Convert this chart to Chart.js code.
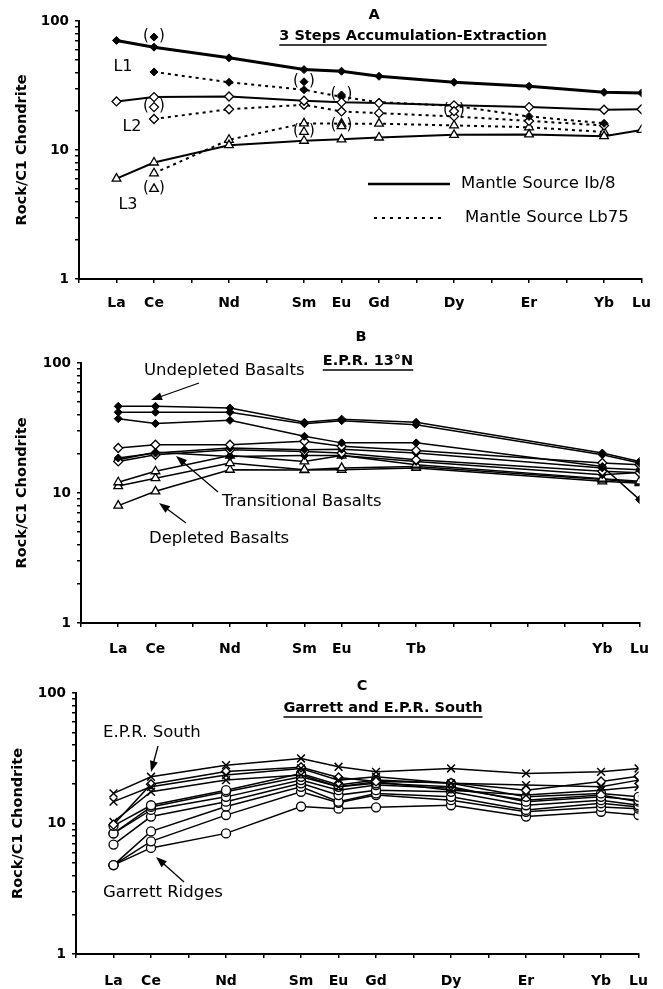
<!DOCTYPE html>
<html>
<head>
<meta charset="utf-8">
<script src="https://cdn.jsdelivr.net/npm/chart.js@4"></script>
<style>
  body { margin: 0; background: #fff; width: 663px; height: 989px; position: relative; overflow: hidden; }
  canvas { position: absolute; left: 0; }
</style>
</head>
<body>
<canvas id="chartA" width="663" height="320" style="top:0px"></canvas>
<canvas id="chartB" width="663" height="340" style="top:320px"></canvas>
<canvas id="chartC" width="663" height="329" style="top:660px"></canvas>
<script>
// REE positions (atomic number) and names
const positionsA = [57, 58, 60, 62, 63, 64, 66, 68, 70, 71];
const namesA = ['La', 'Ce', 'Nd', 'Sm', 'Eu', 'Gd', 'Dy', 'Er', 'Yb', 'Lu'];
const positionsB = [57, 58, 60, 62, 63, 65, 70, 71];
const namesB = ['La', 'Ce', 'Nd', 'Sm', 'Eu', 'Tb', 'Yb', 'Lu'];
const yTickLabels = [1, 10, 100];

// panel A - model curves
const aL1Solid = [70.7, 62.7, 51.8, 42.0, 40.8, 37.3, 33.5, 31.2, 28.0, 27.7];
const aL2Solid = [23.8, 25.7, 26.0, 24.1, 23.4, 23.1, 22.2, 21.5, 20.5, 20.7];
const aL3Solid = [6.0, 8.0, 10.9, 11.8, 12.1, 12.5, 13.1, 13.2, 12.8, 14.3];
const aL1Dot = [null, 40.3, 33.5, 29.3, 25.8, 23.5, 22.0, 18.2, 16.1, null];
const aL2Dot = [null, 17.4, 20.7, 22.4, 19.9, 19.3, 18.2, 16.8, 15.5, null];
const aL3Dot = [null, 6.6, 12.0, 16.1, 16.0, 16.0, 15.5, 15.0, 13.8, null];
// bracketed points in panel A
const brFilledPos = [58, 62, 63];
const brFilledVal = [75, 33.8, 26.7];
const brOpenPos = [58, 66];
const brOpenVal = [21.5, 20.0];
const brTriPos = [58, 62, 63];
const brTriVal = [5.0, 13.8, 15.3];

// panel B - E.P.R. 13N
const bUndep1 = [46.4, 46.4, 45.0, 35.0, 37.0, 35.0, 20.3, 17.5];
const bUndep2 = [41.8, 41.8, 41.8, 34.1, 36.0, 33.5, 19.7, 17.0];
const bUndep3 = [37.3, 34.2, 36.2, 27.3, 24.3, 24.3, 16.0, 8.9];
const bTrans1 = [22.2, 23.5, 23.5, 25.0, 22.9, 21.2, 17.0, 16.5];
const bTrans2 = [18.6, 20.3, 22.2, 21.5, 21.7, 20.3, 15.6, 15.1];
const bTrans3 = [17.5, 19.7, 21.5, 20.9, 20.3, 18.0, 14.7, 14.3];
const bTrans4 = [18.0, 20.6, 19.1, 19.4, 19.4, 17.5, 13.8, 14.4];
const bDep1 = [12.1, 14.7, 19.4, 17.5, 19.4, 16.5, 12.9, 12.3];
const bDep2 = [11.3, 13.0, 17.0, 15.1, 15.6, 16.0, 12.7, 12.1];
const bDep3 = [8.0, 10.3, 15.1, 15.0, 15.1, 15.6, 12.3, 11.9];

// panel C - Garrett and E.P.R. South
const cEpr1 = [17.0, 22.8, 28.0, 31.5, 27.2, 24.9, 26.4, 24.2, 24.9, 26.4];
const cEpr2 = [14.7, 19.1, 23.5, 26.4, 21.5, 22.8, 20.3, 19.7, 19.1, 21.5];
const cEpr3 = [10.3, 17.5, 21.5, 23.5, 19.1, 20.9, 18.0, 16.5, 18.0, 19.1];
const cEprD = [9.8, 20.0, 25.0, 27.0, 22.5, 21.0, 20.5, 18.0, 21.0, 23.0];
const cGar1 = [9.6, 13.8, 18.0, 24.2, 19.7, 21.5, 20.3, 16.0, 17.0, 16.0];
const cGar2 = [8.4, 12.7, 16.0, 21.5, 18.0, 19.7, 18.6, 15.1, 16.5, 14.7];
const cGar3 = [6.9, 11.3, 14.7, 20.3, 16.5, 18.0, 17.5, 13.8, 15.1, 13.8];
const cGar4 = [4.8, 8.7, 13.5, 19.1, 14.7, 17.0, 16.0, 12.7, 14.3, 13.4];
const cGar5 = [4.8, 7.3, 11.6, 17.5, 14.4, 16.5, 15.1, 12.3, 13.4, 13.0];
const cGar6 = [4.8, 6.5, 8.4, 13.5, 13.0, 13.3, 13.8, 11.3, 12.3, 11.6];
const cGar7 = [8.4, 13.4, 17.5, 22.8, 19.1, 20.3, 19.1, 14.7, 16.0, 15.1];

const FONT = '"DejaVu Sans", sans-serif';

function pts(pos, vals) {
  return vals.map((v, i) => ({ x: pos[i], y: v })).filter(p => p.y !== null);
}

const FD = { pointStyle: 'rectRot', pointRadius: 4, pointBackgroundColor: '#000', pointBorderColor: '#000', pointBorderWidth: 1 };
const OD = { pointStyle: 'rectRot', pointRadius: 4.5, pointBackgroundColor: '#fff', pointBorderColor: '#000', pointBorderWidth: 1.3 };
const OT = { pointStyle: 'triangle', pointRadius: 5, pointBackgroundColor: '#fff', pointBorderColor: '#000', pointBorderWidth: 1.3 };
const OC = { pointStyle: 'circle', pointRadius: 4.5, pointBackgroundColor: '#fff', pointBorderColor: '#000', pointBorderWidth: 1.3 };
const XX = { pointStyle: 'crossRot', pointRadius: 5.5, pointBackgroundColor: '#000', pointBorderColor: '#000', pointBorderWidth: 1.5 };

function line(pos, vals, mark, width, dash) {
  return Object.assign({
    data: pts(pos, vals), showLine: true, borderColor: '#000', borderWidth: width,
    borderDash: dash || [], tension: 0
  }, mark);
}
function marks(pos, vals, mark) {
  return Object.assign({ data: pts(pos, vals), showLine: false, bracket: true }, mark);
}

function arrow(ctx, x1, y1, x2, y2) {
  const a = Math.atan2(y2 - y1, x2 - x1);
  ctx.beginPath();
  ctx.moveTo(x1, y1);
  ctx.lineTo(x2 - 6 * Math.cos(a), y2 - 6 * Math.sin(a));
  ctx.lineWidth = 1.3;
  ctx.stroke();
  ctx.beginPath();
  ctx.moveTo(x2, y2);
  ctx.lineTo(x2 - 11 * Math.cos(a) + 4 * Math.sin(a), y2 - 11 * Math.sin(a) - 4 * Math.cos(a));
  ctx.lineTo(x2 - 11 * Math.cos(a) - 4 * Math.sin(a), y2 - 11 * Math.sin(a) + 4 * Math.cos(a));
  ctx.closePath();
  ctx.fill();
}

function titles(ctx, letter, lx, ly, text, tx, ty) {
  ctx.font = 'bold 14.5px ' + FONT;
  ctx.textAlign = 'center';
  ctx.textBaseline = 'middle';
  ctx.fillText(letter, lx, ly);
  ctx.fillText(text, tx, ty);
  const w = ctx.measureText(text).width;
  ctx.beginPath();
  ctx.moveTo(tx - w / 2, ty + 9);
  ctx.lineTo(tx + w / 2, ty + 9);
  ctx.lineWidth = 1.5;
  ctx.stroke();
}

// extra text/arrows per canvas (kept outside chart options so Chart.js does not resolve them)
const extraDraw = {};

const annotate = {
  id: 'annotate',
  afterDatasetsDraw(chart) {
    const ctx = chart.ctx;
    ctx.save();
    ctx.fillStyle = '#000';
    ctx.strokeStyle = '#000';
    ctx.setLineDash([]);
    // brackets around uncertain points
    ctx.font = '15px ' + FONT;
    ctx.textAlign = 'center';
    ctx.textBaseline = 'middle';
    chart.data.datasets.forEach((d, i) => {
      if (!d.bracket) return;
      chart.getDatasetMeta(i).data.forEach(p => {
        ctx.fillText('(', p.x - 8, p.y - 1);
        ctx.fillText(')', p.x + 8, p.y - 1);
      });
    });
    const extra = extraDraw[chart.canvas.id];
    if (extra) extra(ctx);
    ctx.restore();
  }
};

function makeChart(id, names, positions, datasets, geo, draw) {
  const nameAt = {};
  positions.forEach((p, i) => { nameAt[p] = names[i]; });
  extraDraw[id] = draw;
  return new Chart(document.getElementById(id), {
    type: 'scatter',
    data: { datasets: datasets },
    plugins: [annotate],
    options: {
      responsive: false,
      animation: false,
      devicePixelRatio: 1,
      layout: { padding: { top: geo.top, right: geo.right, left: 0, bottom: 0 } },
      plugins: { legend: { display: false }, tooltip: { enabled: false } },
      scales: {
        x: {
          type: 'linear', min: 56, max: 71,
          afterBuildTicks: s => { s.ticks = []; for (let v = 56; v <= 71; v++) s.ticks.push({ value: v }); },
          afterFit: s => { s.height = geo.xH; },
          ticks: {
            autoSkip: false, maxRotation: 0, padding: geo.xPad, color: '#000',
            font: { family: FONT, weight: 'bold', size: 14 },
            callback: v => nameAt[v] || ''
          },
          grid: { drawOnChartArea: false, tickLength: 4, color: '#000', lineWidth: 1.5 },
          border: { color: '#000', width: 2 }
        },
        y: {
          type: 'logarithmic', min: 1, max: 100,
          afterBuildTicks: s => {
            s.ticks = [];
            [1, 10].forEach(d => { for (let k = 1; k < 10; k++) s.ticks.push({ value: d * k }); });
            s.ticks.push({ value: 100 });
          },
          afterFit: s => { s.width = geo.yW; },
          ticks: {
            autoSkip: false, padding: 6, color: '#000',
            font: { family: FONT, weight: 'bold', size: 13.5 },
            callback: v => (yTickLabels.includes(v) ? String(v) : '')
          },
          grid: { drawOnChartArea: false, tickLength: 4, color: '#000', lineWidth: 1.5 },
          border: { color: '#000', width: 2 },
          title: {
            display: true, text: 'Rock/C1 Chondrite', color: '#000',
            font: { family: FONT, weight: 'bold', size: 14.5 },
            padding: { top: geo.titlePad, bottom: 0 }
          }
        }
      }
    }
  });
}

// ---- panel A
makeChart('chartA', namesA, positionsA, [
  marks(brFilledPos, brFilledVal, FD),
  marks(brOpenPos, brOpenVal, OD),
  marks(brTriPos, brTriVal, OT),
  line(positionsA, aL1Solid, FD, 3),
  line(positionsA, aL2Solid, OD, 2),
  line(positionsA, aL3Solid, OT, 2),
  line(positionsA, aL1Dot, FD, 2, [3, 4]),
  line(positionsA, aL2Dot, OD, 2, [3, 4]),
  line(positionsA, aL3Dot, OT, 2, [3, 4])
], { top: 21, right: 17, xH: 41, yW: 79, xPad: 12, titlePad: 14 }, ctx => {
  titles(ctx, 'A', 374, 15, '3 Steps Accumulation-Extraction', 413, 36);
  ctx.font = '16px ' + FONT;
  ctx.textAlign = 'center';
  ctx.fillText('L1', 123, 67);
  ctx.fillText('L2', 132, 127);
  ctx.fillText('L3', 128, 205);
  ctx.lineWidth = 2.5;
  ctx.beginPath(); ctx.moveTo(368, 184); ctx.lineTo(450, 184); ctx.stroke();
  ctx.lineWidth = 2;
  ctx.setLineDash([3, 5]);
  ctx.beginPath(); ctx.moveTo(374, 218); ctx.lineTo(446, 218); ctx.stroke();
  ctx.setLineDash([]);
  ctx.textAlign = 'left';
  ctx.font = '16.5px ' + FONT;
  ctx.fillText('Mantle Source Ib/8', 461, 184);
  ctx.fillText('Mantle Source Lb75', 465, 218);
});

// ---- panel B
makeChart('chartB', namesB, positionsB, [
  line(positionsB, bUndep1, FD, 1.5),
  line(positionsB, bUndep2, FD, 1.5),
  line(positionsB, bUndep3, FD, 1.5),
  line(positionsB, bTrans1, OD, 1.5),
  line(positionsB, bTrans2, FD, 1.5),
  line(positionsB, bTrans3, OD, 1.5),
  line(positionsB, bTrans4, FD, 1.5),
  line(positionsB, bDep1, OT, 1.5),
  line(positionsB, bDep2, OT, 1.5),
  line(positionsB, bDep3, OT, 1.5)
], { top: 43, right: 15, xH: 37, yW: 81, xPad: 14, titlePad: 14 }, ctx => {
  titles(ctx, 'B', 361, 17, 'E.P.R. 13°N', 368, 41);
  ctx.font = '16.5px ' + FONT;
  ctx.textAlign = 'left';
  ctx.fillText('Undepleted Basalts', 144, 51);
  ctx.fillText('Transitional Basalts', 222, 182);
  ctx.fillText('Depleted Basalts', 149, 219);
  arrow(ctx, 199, 63, 151, 80);
  arrow(ctx, 218, 172, 176, 136);
  arrow(ctx, 186, 203, 159, 183);
});

// ---- panel C
makeChart('chartC', namesA, positionsA, [
  line(positionsA, cEpr1, XX, 1.5),
  line(positionsA, cEpr2, XX, 1.5),
  line(positionsA, cEprD, OD, 1.5),
  line(positionsA, cEpr3, XX, 1.5),
  line(positionsA, cGar1, OC, 1.5),
  line(positionsA, cGar7, OC, 1.5),
  line(positionsA, cGar2, OC, 1.5),
  line(positionsA, cGar3, OC, 1.5),
  line(positionsA, cGar4, OC, 1.5),
  line(positionsA, cGar5, OC, 1.5),
  line(positionsA, cGar6, OC, 1.5)
], { top: 33, right: 21, xH: 35, yW: 76, xPad: 15, titlePad: 10 }, ctx => {
  titles(ctx, 'C', 362, 26, 'Garrett and E.P.R. South', 383, 48);
  ctx.font = '16.5px ' + FONT;
  ctx.textAlign = 'left';
  ctx.fillText('E.P.R. South', 103, 73);
  ctx.fillText('Garrett Ridges', 103, 233);
  arrow(ctx, 158, 86, 151, 112);
  arrow(ctx, 184, 222, 156, 197);
});
</script>
</body>
</html>
